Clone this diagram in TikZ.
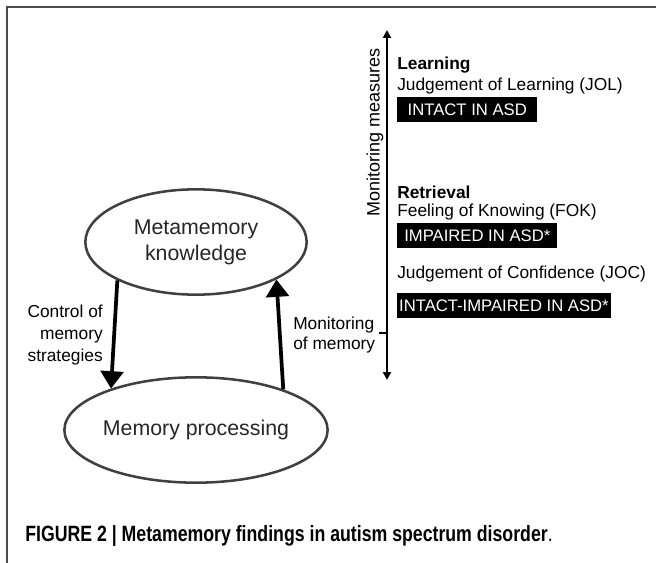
\documentclass[tikz,border=0pt]{standalone}
\usepackage{fontspec}
\setmainfont{Liberation Sans}
\newfontfamily\capfont[FakeStretch=0.8]{Liberation Sans}
\usetikzlibrary{shapes.geometric,arrows.meta}

\tikzset{
	bubble/.style={ellipse, draw=black!75, line width=1.9pt, minimum width=166pt, minimum height=79pt, inner sep=0pt, align=center, text=black!85, font=\fontsize{16}{19.5}\selectfont},
	flow/.style={line width=2.8pt, -{Triangle[width=17pt,length=13pt]}},
	txt/.style={anchor=west, inner sep=0pt, font=\fontsize{13}{15}\selectfont},
	head/.style={anchor=west, inner sep=0pt, font=\fontsize{13}{15}\selectfont\bfseries},
	verdict/.style={anchor=west, fill=black, text=white, inner sep=0pt, minimum height=18.75pt, font=\fontsize{12.5}{15}\selectfont},
}

\begin{document}
\begin{tikzpicture}[x=0.75pt, y=-0.75pt]
	\useasboundingbox (0,0) rectangle (656,563);
	\draw [line width=0.8pt, black!70] (7,563) -- (7,7) -- (656,7);

	% the two levels
	\node [bubble] (meta) at (196,242) {Metamemory\\knowledge};
	\node [bubble] (proc) at (196,430) {Memory processing};
	\draw [flow] (meta.206) -- (proc.154);
	\draw [flow] (proc.25) -- (meta.335);
	\node [txt, anchor=east, align=right, font=\fontsize{13}{16.5}\selectfont] (ctrl) at (103,335) {Control of\\memory\\strategies};
	\node [txt, align=left] (moni) at (293,335) {Monitoring\\of memory};

	% monitoring axis
	\coordinate (axtop) at (387,30);
	\coordinate (axbot) at (387,380);
	\coordinate (tick) at (387,333);
	\coordinate (tickend) at (379,333);
	\draw [line width=1.5pt, {Triangle[width=6pt,length=6pt]}-{Triangle[width=6pt,length=6pt]}] (axbot) -- (axtop);
	\draw [line width=1.5pt] (tick) -- (tickend);
	\node [rotate=90, inner sep=0pt, font=\fontsize{13.5}{16}\selectfont] (measures) at (375,132) {Monitoring measures};

	% findings
	\node [head] (learn) at (397,65) {Learning};
	\node [txt] (jol) at (397,86) {Judgement of Learning (JOL)};
	\node [verdict, minimum width=105pt] (jolres) at (397,109.5) {INTACT IN ASD};
	\node [head] (retr) at (397,192) {Retrieval};
	\node [txt] (fok) at (397,212) {Feeling of Knowing (FOK)};
	\node [verdict, minimum width=120pt] (fokres) at (397,235.5) {IMPAIRED IN ASD*};
	\node [txt] (joc) at (397,274) {Judgement of Confidence (JOC)};
	\node [verdict, minimum width=160pt] (jocres) at (397,305.5) {INTACT-IMPAIRED IN ASD*};

	\node [anchor=west, inner sep=0pt, font=\capfont\fontsize{16.6}{19}\selectfont] (caption) at (25,536) {\bfseries FIGURE 2 | Metamemory findings in autism spectrum disorder\mdseries.};
\end{tikzpicture}
\end{document}
